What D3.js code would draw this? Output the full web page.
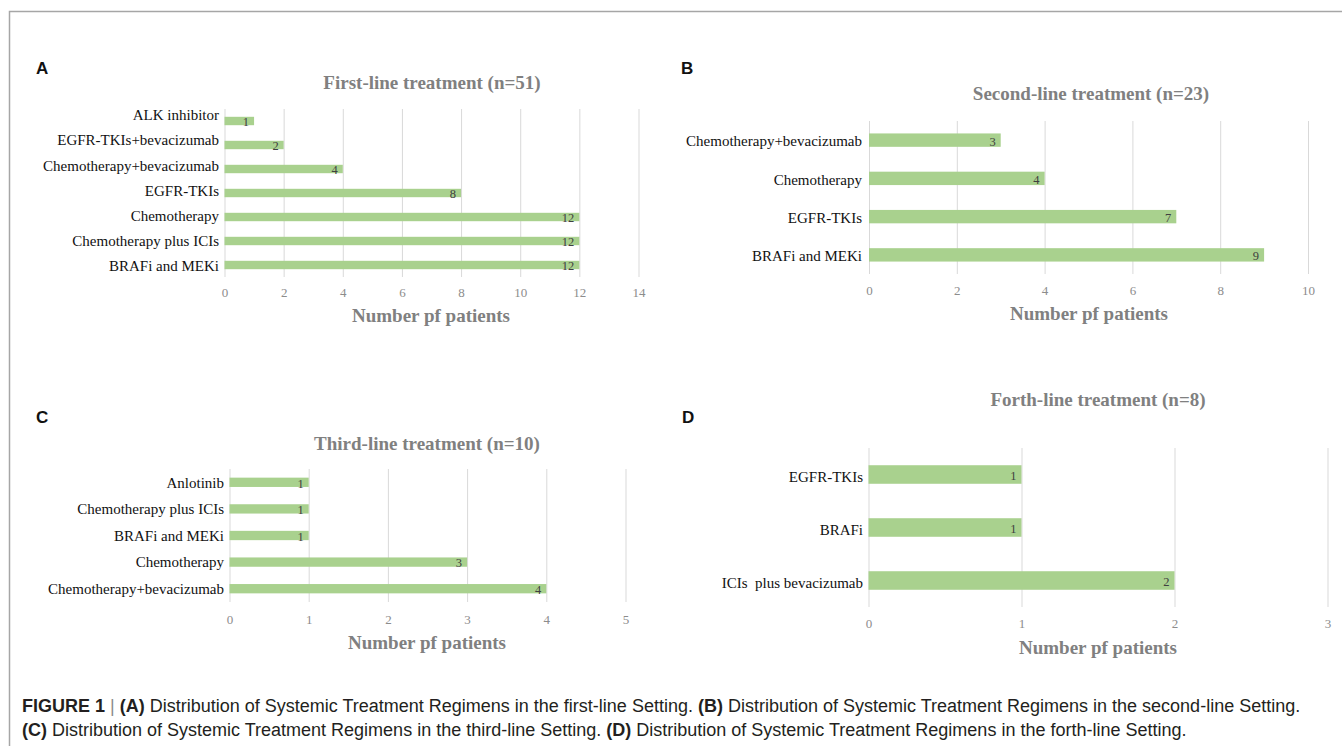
<!DOCTYPE html>
<html>
<head>
<meta charset="utf-8">
<script src="https://cdn.jsdelivr.net/npm/d3@7/dist/d3.min.js"></script>
<style>
  html, body { margin: 0; padding: 0; background: #fff; }
  svg { display: block; }
</style>
</head>
<body>
<svg id="fig" width="1342" height="746"></svg>
<script>
// Regimen counts per line of therapy (categories listed top to bottom)
const catsFirst = ["ALK inhibitor", "EGFR-TKIs+bevacizumab", "Chemotherapy+bevacizumab", "EGFR-TKIs",
                   "Chemotherapy", "Chemotherapy plus ICIs", "BRAFi and MEKi"];
const valsFirst = [1, 2, 4, 8, 12, 12, 12];
const ticksFirst = [0, 2, 4, 6, 8, 10, 12, 14];

const catsSecond = ["Chemotherapy+bevacizumab", "Chemotherapy", "EGFR-TKIs", "BRAFi and MEKi"];
const valsSecond = [3, 4, 7, 9];
const ticksSecond = [0, 2, 4, 6, 8, 10];

const catsThird = ["Anlotinib", "Chemotherapy plus ICIs", "BRAFi and MEKi", "Chemotherapy", "Chemotherapy+bevacizumab"];
const valsThird = [1, 1, 1, 3, 4];
const ticksThird = [0, 1, 2, 3, 4, 5];

const catsFourth = ["EGFR-TKIs", "BRAFi", "ICIs  plus bevacizumab"];
const valsFourth = [1, 1, 2];
const ticksFourth = [0, 1, 2, 3];

const panelTitles = ["First-line treatment (n=51)", "Second-line treatment (n=23)",
                     "Third-line treatment (n=10)", "Forth-line treatment (n=8)"];
const panelLetters = ["A", "B", "C", "D"];
const axisTitle = "Number pf patients";

const BAR = "#a9d18e";
const GRID = "#d9d9d9";
const SERIF = "'Liberation Serif', 'Times New Roman', serif";
const SANS = "'Liberation Sans', Arial, sans-serif";

const svg = d3.select("#fig");

// Figure frame (top and left rules)
svg.append("path")
  .attr("d", "M9.5,746 V11.5 H1342")
  .attr("fill", "none")
  .attr("stroke", "#a6a6a6")
  .attr("stroke-width", 1.5);

function drawPanel(cats, vals, ticks, title, letter, L) {
  const g = svg.append("g");
  const x = d3.scaleLinear().domain([ticks[0], ticks[ticks.length - 1]]).range([L.x0, L.x1]);
  const y = d3.scaleBand().domain(cats).range([L.yTop, L.yBot])
    .paddingInner(0.65).paddingOuter(0.325);

  // panel letter
  g.append("text").attr("x", L.letter[0]).attr("y", L.letter[1])
    .attr("font-family", SANS).attr("font-weight", "bold").attr("font-size", 17)
    .attr("fill", "#111").text(letter);

  // chart title
  g.append("text").attr("x", L.title[0]).attr("y", L.title[1])
    .attr("text-anchor", "middle").attr("dy", "0.35em")
    .attr("font-family", SERIF).attr("font-weight", "bold").attr("font-size", 19)
    .attr("fill", "#808080").text(title);

  // vertical gridlines
  g.append("g").selectAll("line").data(ticks).join("line")
    .attr("x1", d => x(d) + 0.5).attr("x2", d => x(d) + 0.5)
    .attr("y1", L.yTop).attr("y2", L.yBot)
    .attr("stroke", GRID).attr("stroke-width", 1);

  // x tick labels
  const axis = d3.axisBottom(x).tickValues(ticks).tickFormat(d3.format("d"))
    .tickSize(0).tickPadding(0);
  const ax = g.append("g").attr("transform", `translate(0,${L.tickY})`).call(axis);
  ax.select(".domain").remove();
  ax.selectAll("text")
    .attr("dy", "0.35em").attr("y", 0)
    .attr("font-family", SERIF).attr("font-size", 13).attr("fill", "#8c8c8c");

  // axis title
  g.append("text").attr("x", L.axisTitle[0]).attr("y", L.axisTitle[1])
    .attr("text-anchor", "middle").attr("dy", "0.35em")
    .attr("font-family", SERIF).attr("font-weight", "bold").attr("font-size", 19)
    .attr("fill", "#808080").text(axisTitle);

  const rows = cats.map((c, i) => ({ c, v: vals[i], i }));

  // bars
  g.append("g").selectAll("rect").data(rows).join("rect")
    .attr("x", x(0)).attr("y", d => y(d.c))
    .attr("width", d => x(d.v) - x(0)).attr("height", y.bandwidth())
    .attr("fill", BAR);

  // value labels inside bar ends
  g.append("g").selectAll("text").data(rows).join("text")
    .attr("x", d => x(d.v) - 5).attr("y", d => y(d.c) + y.bandwidth() / 2 + 1)
    .attr("dy", "0.35em").attr("text-anchor", "end")
    .attr("font-family", SERIF).attr("font-size", 12.5).attr("fill", "#404040")
    .text(d => d.v);

  // category labels
  const labelY = L.labelRange
    ? d3.scalePoint().domain(cats).range(L.labelRange)
    : (c => y(c) + y.bandwidth() / 2 + (L.labelShift || 0));
  g.append("g").selectAll("text").data(rows).join("text")
    .attr("x", L.labelX).attr("y", d => labelY(d.c))
    .attr("dy", "0.35em").attr("text-anchor", "end")
    .style("white-space", "pre")
    .attr("font-family", SERIF).attr("font-size", 15).attr("fill", "#111")
    .text(d => d.c);
}

drawPanel(catsFirst, valsFirst, ticksFirst, panelTitles[0], panelLetters[0], {
  x0: 224.5, x1: 638.5, yTop: 109, yBot: 277, tickY: 292, labelX: 219,
  labelRange: [115, 266], title: [432, 82], axisTitle: [431, 315], letter: [36, 74]
});
drawPanel(catsSecond, valsSecond, ticksSecond, panelTitles[1], panelLetters[1], {
  x0: 869, x1: 1308, yTop: 121, yBot: 274, tickY: 290, labelX: 862, labelShift: 1,
  title: [1091, 93], axisTitle: [1089, 313], letter: [681, 74]
});
drawPanel(catsThird, valsThird, ticksThird, panelTitles[2], panelLetters[2], {
  x0: 229.5, x1: 625.5, yTop: 469, yBot: 602, tickY: 619, labelX: 224, labelShift: 0,
  title: [427, 443], axisTitle: [427, 642], letter: [36, 423]
});
drawPanel(catsFourth, valsFourth, ticksFourth, panelTitles[3], panelLetters[3], {
  x0: 868.5, x1: 1327.5, yTop: 448, yBot: 607, tickY: 623, labelX: 863, labelShift: 2,
  title: [1098, 399], axisTitle: [1098, 647], letter: [682, 423]
});

// Figure caption
const captionLines = [
  [["FIGURE 1", true, "#231f20"], [" | ", false, "#8c8c8c"], ["(A)", true, "#231f20"],
   [" Distribution of Systemic Treatment Regimens in the first-line Setting. ", false, "#231f20"],
   ["(B)", true, "#231f20"], [" Distribution of Systemic Treatment Regimens in the second-line Setting.", false, "#231f20"]],
  [["(C)", true, "#231f20"], [" Distribution of Systemic Treatment Regimens in the third-line Setting. ", false, "#231f20"],
   ["(D)", true, "#231f20"], [" Distribution of Systemic Treatment Regimens in the forth-line Setting.", false, "#231f20"]]
];
const cap = svg.append("g");
captionLines.forEach((line, i) => {
  const t = cap.append("text").attr("x", 22).attr("y", 712 + i * 24)
    .attr("font-family", SANS).attr("font-size", 18)
    .style("white-space", "pre");
  line.forEach(([s, b, c]) => t.append("tspan")
    .attr("font-weight", b ? "bold" : "normal").attr("fill", c).text(s));
});
</script>
</body>
</html>
